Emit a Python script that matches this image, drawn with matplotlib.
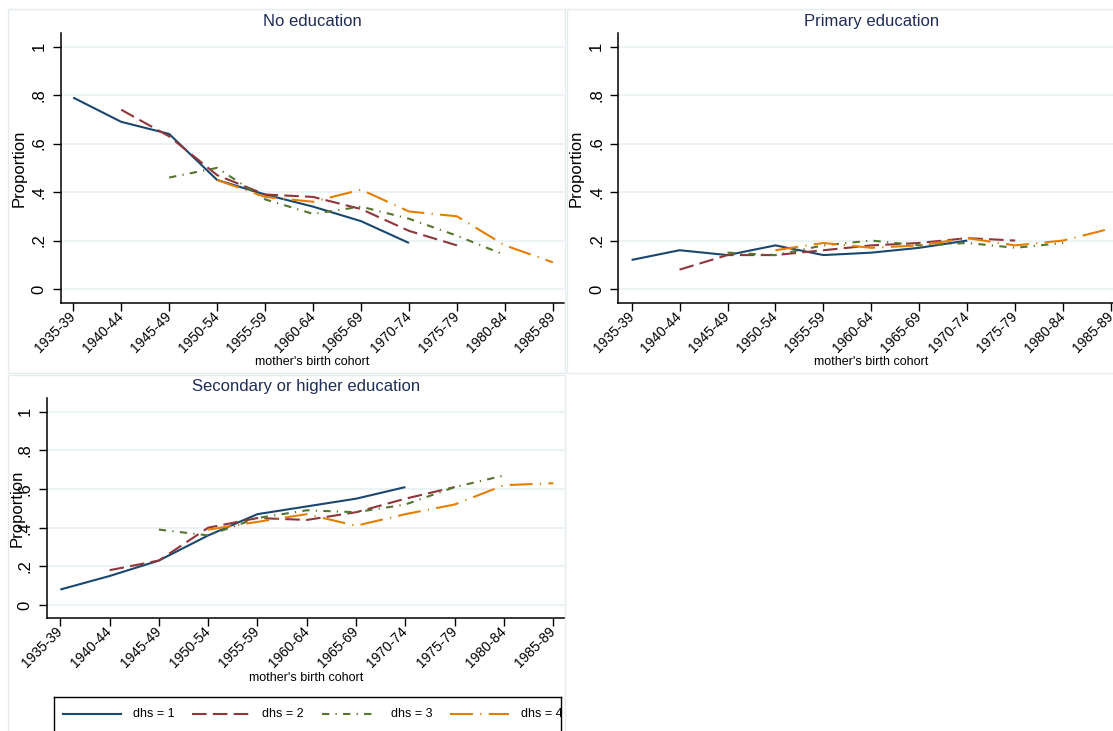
import numpy as np
import matplotlib
matplotlib.use("Agg")
import matplotlib.pyplot as plt
from matplotlib.transforms import blended_transform_factory
from matplotlib.patches import Rectangle
from matplotlib.lines import Line2D

plt.rcParams['font.family'] = ['Liberation Sans', 'DejaVu Sans']

nan = np.nan
cohorts = ['1935-39', '1940-44', '1945-49', '1950-54', '1955-59', '1960-64',
           '1965-69', '1970-74', '1975-79', '1980-84', '1985-89']
y_ticks = [0, 0.2, 0.4, 0.6, 0.8, 1.0]
y_ticklabels = ['0', '.2', '.4', '.6', '.8', '1']
series_labels = ['dhs = 1', 'dhs = 2', 'dhs = 3', 'dhs = 4']
panel_titles = ['No education', 'Primary education', 'Secondary or higher education']

# No education
noedu_dhs1 = [0.79, 0.69, 0.64, 0.45, 0.39, 0.34, 0.28, 0.19, nan, nan, nan]
noedu_dhs2 = [nan, 0.74, 0.63, 0.47, 0.39, 0.38, 0.33, 0.24, 0.18, nan, nan]
noedu_dhs3 = [nan, nan, 0.46, 0.50, 0.37, 0.31, 0.34, 0.29, 0.22, 0.14, nan]
noedu_dhs4 = [nan, nan, nan, 0.45, 0.38, 0.36, 0.41, 0.32, 0.30, 0.18, 0.11]
# Primary education
prim_dhs1 = [0.12, 0.16, 0.14, 0.18, 0.14, 0.15, 0.17, 0.20, nan, nan, nan]
prim_dhs2 = [nan, 0.08, 0.14, 0.14, 0.16, 0.18, 0.19, 0.21, 0.20, nan, nan]
prim_dhs3 = [nan, nan, 0.15, 0.14, 0.18, 0.20, 0.18, 0.19, 0.17, 0.19, nan]
prim_dhs4 = [nan, nan, nan, 0.16, 0.19, 0.17, 0.18, 0.21, 0.18, 0.20, 0.25]
# Secondary or higher education
sec_dhs1 = [0.08, 0.15, 0.23, 0.36, 0.47, 0.51, 0.55, 0.61, nan, nan, nan]
sec_dhs2 = [nan, 0.18, 0.23, 0.40, 0.45, 0.44, 0.48, 0.55, 0.61, nan, nan]
sec_dhs3 = [nan, nan, 0.39, 0.36, 0.45, 0.49, 0.48, 0.52, 0.61, 0.67, nan]
sec_dhs4 = [nan, nan, nan, 0.39, 0.43, 0.47, 0.41, 0.47, 0.52, 0.62, 0.63]

panel_data = [
    [noedu_dhs1, noedu_dhs2, noedu_dhs3, noedu_dhs4],
    [prim_dhs1, prim_dhs2, prim_dhs3, prim_dhs4],
    [sec_dhs1, sec_dhs2, sec_dhs3, sec_dhs4],
]

colors = ['#1a476f', '#90353b', '#55752f', '#e37e00']
styles = ['-', (0, (7, 3)), (0, (3.5, 3, 0.6, 3)), (0, (11, 3.5, 0.6, 3.5))]
LW = 1.5
TITLE_COLOR = '#1e2d56'
GRID_COLOR = '#eaf2f3'
BORDER_COLOR = '#e4ecee'

W, H = 1113, 731
fig = plt.figure(figsize=(W / 100, H / 100), dpi=100)
fig.patch.set_facecolor('white')


def fx(px):
    return px / W


def fy(py):
    return 1 - py / H


def add_ax(l, t, r, b):
    return fig.add_axes([fx(l), fy(b), fx(r) - fx(l), fy(t) - fy(b)])


# panel borders
for (l, t, r, b) in [(8, 9, 565, 373), (567, 9, 1125, 373), (8, 375, 565, 745)]:
    fig.add_artist(Rectangle((fx(l), fy(b)), fx(r) - fx(l), fy(t) - fy(b),
                             transform=fig.transFigure, fill=False,
                             edgecolor=BORDER_COLOR, lw=1.0))

layouts = [
    dict(box=(60.5, 33.3, 564, 303), t0=73.2, dx=47.97, y0=289, y1=46.7,
         ylab_x=27, xlab_top=356),
    dict(box=(618, 33.3, 1125, 303), t0=631.6, dx=47.95, y0=289, y1=46.7,
         ylab_x=584, xlab_top=356),
    dict(box=(46.7, 398.3, 565, 618.3), t0=60.3, dx=49.3, y0=605, y1=411.7,
         ylab_x=25, xlab_top=672),
]

x = np.arange(len(cohorts))
for i, lay in enumerate(layouts):
    l, t, r, b = lay['box']
    ax = add_ax(l, t, r, b)
    for s, vals in enumerate(panel_data[i]):
        ax.plot(x, vals, color=colors[s], linestyle=styles[s], lw=LW,
                dash_capstyle='butt', solid_capstyle='butt', zorder=3)
    ax.set_xlim((l - lay['t0']) / lay['dx'], (r - lay['t0']) / lay['dx'])
    upp = lay['y0'] - lay['y1']
    ax.set_ylim((lay['y0'] - b) / upp, (lay['y0'] - t) / upp)
    ax.set_xticks(x)
    ax.set_xticklabels(cohorts, rotation=45, ha='right', va='center',
                       rotation_mode='anchor', fontsize=10)
    ax.set_yticks(y_ticks)
    ax.set_yticklabels(y_ticklabels, rotation=90, va='center', ha='right',
                       fontsize=12)
    ax.tick_params(axis='both', length=6, width=1.0, color='black')
    ax.tick_params(axis='x', pad=1.8)
    ax.tick_params(axis='y', pad=4)
    for side in ['top', 'right']:
        ax.spines[side].set_visible(False)
    for side in ['left', 'bottom']:
        ax.spines[side].set_linewidth(1.1)
        ax.spines[side].set_color('black')
    ax.grid(axis='y', color=GRID_COLOR, lw=1.3)
    ax.set_axisbelow(True)
    ax.set_title(panel_titles[i], color=TITLE_COLOR, fontsize=12, pad=5)
    ax.set_ylabel('Proportion', fontsize=12)
    ax.yaxis.set_label_coords(fx(lay['ylab_x']), 0.5,
                              transform=blended_transform_factory(fig.transFigure, ax.transData))
    ax.set_xlabel("mother's birth cohort", fontsize=9)
    ax.xaxis.set_label_coords(0.5, fy(lay['xlab_top']),
                              transform=blended_transform_factory(ax.transAxes, fig.transFigure))

# legend (clipped box as in the original)
lax = add_ax(54, 697, 561, 745)
lax.set_xlim(0, 1)
lax.set_ylim(0, 1)
lax.set_xticks([])
lax.set_yticks([])
for sp in lax.spines.values():
    sp.set_linewidth(1.0)
    sp.set_color('black')
lax.spines['bottom'].set_visible(False)
item_y = (745 - 714) / (745 - 697)
seg_px = [(63, 121), (192, 250), (322, 377), (450, 509)]
txt_px = [133, 262, 391, 521]
for s in range(4):
    x0 = (seg_px[s][0] - 54) / (561 - 54)
    x1 = (seg_px[s][1] - 54) / (561 - 54)
    lax.add_line(Line2D([x0, x1], [item_y, item_y], color=colors[s],
                        linestyle=styles[s], lw=LW, dash_capstyle='butt'))
    lax.text((txt_px[s] - 54) / (561 - 54), item_y, series_labels[s],
             fontsize=9, va='center', ha='left', clip_on=True)

fig.savefig('out.png', dpi=100, facecolor='white')
